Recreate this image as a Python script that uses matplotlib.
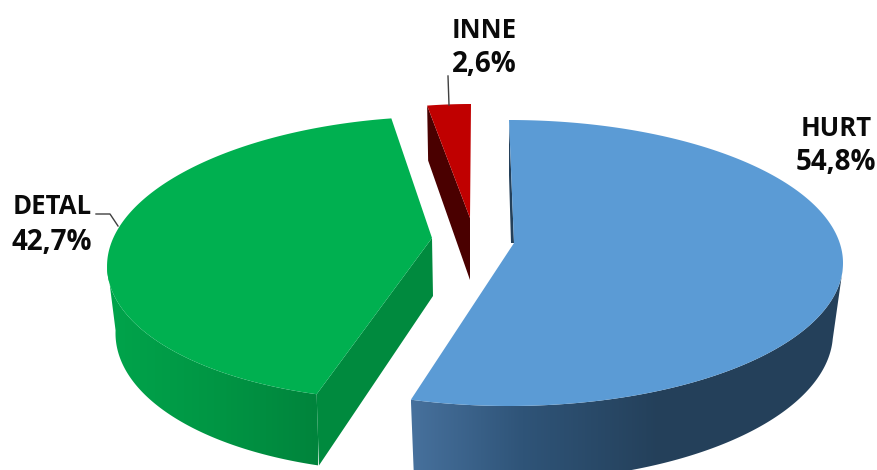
import numpy as np
import matplotlib
matplotlib.use("Agg")
import matplotlib.pyplot as plt
from matplotlib.patches import Polygon
from matplotlib.colors import LinearSegmentedColormap

# data
categories = ["HURT", "DETAL", "INNE"]
shares = [54.8, 42.7, 2.6]
labels = ["54,8%", "42,7%", "2,6%"]

# styling / projected geometry of each exploded slice (pixel space)
top_colors = ["#5b9bd5", "#00b050", "#c00000"]
cut_colors = ["#24405a", "#008a3e", "#4a0000"]
side_stops = [
    [(0.0, "#47719d"), (0.45, "#2f5478"), (1.0, "#24405a")],
    [(0.0, "#00a44b"), (0.5, "#009644"), (1.0, "#00843c")],
    None,
]
geom = [
    dict(apex=(514, 243), lower_apex=(514, 300), c=(509, 263), r=(334, 143), cb=(509, 333), rb=(324, 148), k=0.0, vis=(92, None), grad=(411, 660)),
    dict(apex=(432, 238), lower_apex=(433, 296), c=(426.5, 258.5), r=(319, 142), cb=(427, 325), rb=(311, 147), k=-0.119, vis=(None, 268), grad=(110, 318)),
    dict(apex=(470, 218), lower_apex=(470, 280), c=(471, 224), r=(270, 120), cb=(471, 280), rb=(264, 120), k=0.0, vis=None, grad=None),
]

fig = plt.figure(figsize=(8.77, 4.70), dpi=100)
ax = fig.add_axes([0, 0, 1, 1])
ax.axis("off")


def arc(theta, c, r, k):
    t = np.radians(theta)
    dy = -r[1] * np.cos(t)
    return c[0] + r[0] * np.sin(t) + k * dy, c[1] + dy


total = sum(shares)
ends = np.cumsum(shares) / total * 360.0
starts = np.r_[0.0, ends[:-1]]

for i in range(len(shares)):
    g = geom[i]
    th = np.linspace(starts[i], ends[i], 400)
    x, y = arc(th, g["c"], g["r"], g["k"])
    xb, yb = arc(th, g["cb"], g["rb"], g["k"])

    # rim: horizontal gradient clipped to the rim outline
    if g["vis"] is not None:
        lo = g["vis"][0] if g["vis"][0] is not None else starts[i]
        hi = g["vis"][1] if g["vis"][1] is not None else ends[i]
        m = (th >= lo) & (th <= hi)
        outline = np.r_[np.c_[x[m], y[m]], np.c_[xb[m], yb[m]][::-1]]
        clip = Polygon(outline, closed=True, fc="none", ec="none", zorder=2)
        ax.add_patch(clip)
        cmap = LinearSegmentedColormap.from_list("s", side_stops[i], N=512)
        im = ax.imshow(np.linspace(0, 1, 512)[None, :], cmap=cmap, aspect="auto",
                       extent=(g["grad"][0], g["grad"][1], 480, 100), zorder=2, interpolation="bilinear")
        if i == 0:
            # the shade stays flat right of the gradient range
            im2 = ax.imshow([[1.0]], cmap=cmap, vmin=0, vmax=1, aspect="auto",
                            extent=(g["grad"][1], 877, 480, 100), zorder=2)
            im2.set_clip_path(clip)
        else:
            im2 = ax.imshow([[0.0]], cmap=cmap, vmin=0, vmax=1, aspect="auto",
                            extent=(0, g["grad"][0], 480, 100), zorder=2)
            im2.set_clip_path(clip)
        im.set_clip_path(clip)

    # cut faces
    if i == 0:
        ax.add_patch(Polygon([(x[0], y[0]), g["apex"], (g["apex"][0] - 3, g["apex"][1]), (x[0], y[0] + 55)],
                             closed=True, fc=cut_colors[i], ec="none", zorder=3))
    elif i == 1:
        ax.add_patch(Polygon([g["apex"], (x[0], y[0]), (xb[0], yb[0]), g["lower_apex"]],
                             closed=True, fc=cut_colors[i], ec="none", zorder=3))
    else:
        ax.add_patch(Polygon([(x[0], y[0]), g["apex"], g["lower_apex"], (x[0] + 1, y[0] + 55)],
                             closed=True, fc=cut_colors[i], ec="none", zorder=3))

    # top face
    ax.add_patch(Polygon(np.r_[[g["apex"]], np.c_[x, y]], closed=True, fc=top_colors[i], ec="none", zorder=4))

# leader lines
leader = "#404040"
ax.plot([96, 110, 118], [214, 214, 226], color=leader, lw=1.0, zorder=5)
ax.plot([448, 449], [76, 105], color=leader, lw=1.0, zorder=5)

# labels
name_font = dict(family="Open Sans", fontweight="bold", fontsize=18.5, color="#0a0a0a", ha="center", va="center")
pct_font = dict(name_font, fontsize=20)
pos = [(836, 128, 163), (52, 206, 243), (484, 30, 64)]
for name, lab, (px, py1, py2) in zip(categories, labels, pos):
    ax.text(px, py1, name, **name_font)
    ax.text(px, py2, lab, **pct_font)

ax.set_xlim(0, 877)
ax.set_ylim(470, 0)
fig.savefig("out.png", dpi=100)
